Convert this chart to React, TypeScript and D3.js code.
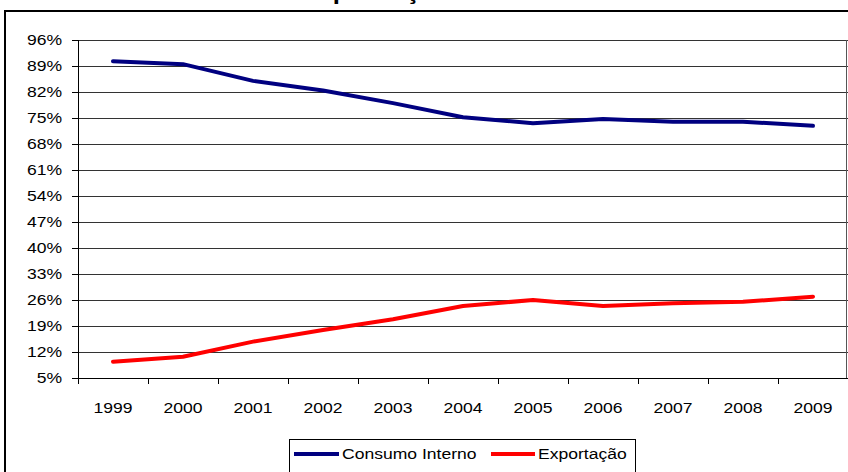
import React from 'react';
import * as d3 from 'd3';

const years = ['1999', '2000', '2001', '2002', '2003', '2004', '2005', '2006', '2007', '2008', '2009'];
const consumoInterno = [90.3, 89.5, 85.0, 82.4, 79.0, 75.2, 73.6, 74.7, 74.0, 74.0, 72.9];
const exportacao = [9.4, 10.7, 14.8, 17.9, 20.8, 24.4, 26.0, 24.4, 25.1, 25.5, 26.9];
const yTicks = [5, 12, 19, 26, 33, 40, 47, 54, 61, 68, 75, 82, 89, 96];
const seriesNames = ['Consumo Interno', 'Exportação'];
const seriesColors = ['#000080', '#ff0000'];
const title = 'Destino da produção';

const W = 848;
const H = 472;
const FONT = "'Liberation Sans', Arial, sans-serif";
const STRETCH = 1.17;

const plot = { left: 78, right: 848, top: 40, bottom: 378 };

// Text drawn slightly wide, as in the exported chart.
function WideText(props: {
  x: number;
  y: number;
  anchor?: 'start' | 'middle' | 'end';
  size?: number;
  weight?: string;
  children: React.ReactNode;
}) {
  const { x, y, anchor = 'start', size = 15, weight = 'normal', children } = props;
  return (
    <text
      transform={`translate(${x},${y}) scale(${STRETCH},1)`}
      textAnchor={anchor}
      fontFamily={FONT}
      fontSize={size}
      fontWeight={weight}
      fill="#000"
    >
      {children}
    </text>
  );
}

export default function App() {
  const x = d3.scaleBand<string>().domain(years).range([plot.left, plot.right]);
  const y = d3.scaleLinear().domain([5, 96]).range([plot.bottom, plot.top]);
  const cx = (yr: string) => (x(yr) ?? 0) + x.bandwidth() / 2;
  const crisp = (v: number) => Math.round(v) + 0.5;

  const line = d3
    .line<number>()
    .x((_, i) => cx(years[i]))
    .y((v) => y(v));

  const series = [consumoInterno, exportacao];

  return (
    <svg
      width={W}
      height={H}
      style={{ position: 'absolute', left: 0, top: 0, background: '#fff' }}
    >
      <rect x={0} y={0} width={W} height={H} fill="#fff" />
      {/* chart frame */}
      <rect x={5} y={11} width={W + 10} height={H + 20} fill="#fff" stroke="#000" strokeWidth={2} />
      {/* title, sitting above the top edge of the page */}
      <WideText x={194} y={-1} size={22} weight="bold">
        {title}
      </WideText>

      {/* gridlines */}
      {yTicks.map((t) => (
        <line
          key={'g' + t}
          x1={plot.left}
          x2={plot.right}
          y1={crisp(y(t))}
          y2={crisp(y(t))}
          stroke="#333"
          strokeWidth={1}
        />
      ))}
      {/* plot border (right) */}
      <line x1={846.5} x2={846.5} y1={plot.top} y2={plot.bottom} stroke="#555" strokeWidth={1} />

      {/* y axis */}
      <line x1={crisp(plot.left)} x2={crisp(plot.left)} y1={plot.top} y2={crisp(plot.bottom)} stroke="#000" />
      {yTicks.map((t) => (
        <g key={'y' + t}>
          <line x1={72} x2={plot.left} y1={crisp(y(t))} y2={crisp(y(t))} stroke="#000" />
          <WideText x={62} y={y(t) + 5} anchor="end">
            {t}%
          </WideText>
        </g>
      ))}

      {/* x axis */}
      <line x1={plot.left} x2={plot.right} y1={crisp(plot.bottom)} y2={crisp(plot.bottom)} stroke="#000" />
      {years.map((yr) => (
        <g key={'x' + yr}>
          <line
            x1={crisp(x(yr) ?? 0)}
            x2={crisp(x(yr) ?? 0)}
            y1={plot.bottom}
            y2={plot.bottom + 6}
            stroke="#000"
          />
          <WideText x={cx(yr)} y={413} anchor="middle">
            {yr}
          </WideText>
        </g>
      ))}

      {/* series lines */}
      {series.map((s, i) => (
        <path
          key={'s' + i}
          d={line(s) ?? ''}
          fill="none"
          stroke={seriesColors[i]}
          strokeWidth={4}
          strokeLinejoin="round"
          strokeLinecap="round"
        />
      ))}

      {/* legend */}
      <rect x={289.5} y={439.5} width={346} height={60} fill="#fff" stroke="#000" strokeWidth={1} />
      <line x1={294} x2={339} y1={454} y2={454} stroke={seriesColors[0]} strokeWidth={4} />
      <WideText x={342} y={459}>
        {seriesNames[0]}
      </WideText>
      <line x1={491} x2={535} y1={454} y2={454} stroke={seriesColors[1]} strokeWidth={4} />
      <WideText x={538} y={459}>
        {seriesNames[1]}
      </WideText>
    </svg>
  );
}
